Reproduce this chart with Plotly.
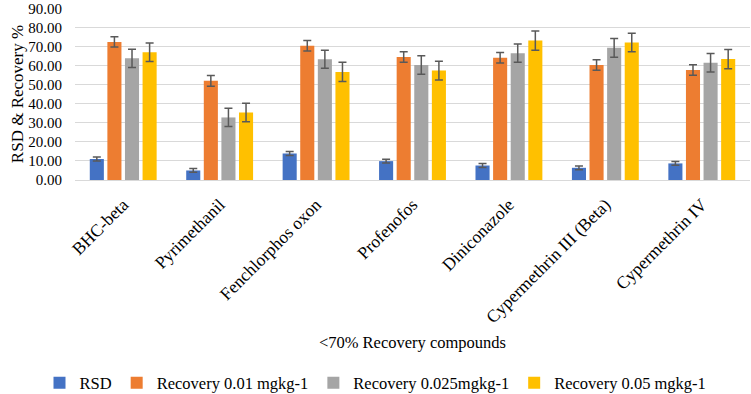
import plotly.graph_objects as go

categories = ["BHC-beta", "Pyrimethanil", "Fenchlorphos oxon", "Profenofos",
              "Diniconazole", "Cypermethrin III (Beta)", "Cypermethrin IV"]
rsd = [11.0, 5.0, 13.9, 9.9, 7.6, 6.4, 8.7]
rsd_err = [1.0, 1.0, 1.0, 1.0, 1.0, 1.0, 1.0]
rec_001 = [72.4, 52.0, 70.4, 64.5, 64.1, 60.3, 57.7]
rec_001_err = [2.7, 2.8, 2.8, 2.8, 2.8, 2.8, 2.8]
rec_0025 = [63.8, 32.8, 63.3, 60.3, 66.5, 69.3, 61.5]
rec_0025_err = [4.8, 4.8, 4.7, 4.9, 4.8, 4.9, 4.8]
rec_005 = [67.0, 35.4, 56.7, 57.4, 73.1, 72.1, 63.4]
rec_005_err = [4.9, 4.8, 5.0, 4.9, 5.0, 4.9, 5.0]
y_ticks = [0, 10, 20, 30, 40, 50, 60, 70, 80, 90]

series = [
    ("RSD", rsd, rsd_err, "#4472C4"),
    ("Recovery 0.01 mgkg-1", rec_001, rec_001_err, "#ED7D31"),
    ("Recovery 0.025mgkg-1", rec_0025, rec_0025_err, "#A5A5A5"),
    ("Recovery 0.05 mgkg-1", rec_005, rec_005_err, "#FFC000"),
]

font_family = "Liberation Serif"

fig = go.Figure()
for name, vals, errs, color in series:
    fig.add_trace(go.Bar(
        x=categories, y=vals, name=name,
        marker=dict(color=color, line=dict(width=0)),
        error_y=dict(type="data", array=errs, visible=True,
                     color="#595959", thickness=1.5, width=4),
    ))

fig.update_layout(
    width=751, height=394,
    margin=dict(l=75, r=1, t=8, b=214, autoexpand=False),
    paper_bgcolor="white", plot_bgcolor="white",
    barmode="group", bargap=0.27, bargroupgap=0.2,
    font=dict(family=font_family, size=15, color="#000000"),
    showlegend=True,
    legend=dict(orientation="h", x=0.5, xanchor="center", xref="container",
                y=(394 - 383) / 394, yanchor="middle", yref="container",
                font=dict(family=font_family, size=16.5), itemwidth=30,
                traceorder="normal"),
    xaxis=dict(
        tickangle=-45, tickfont=dict(family=font_family, size=17.5),
        showgrid=False, showline=False, ticks="", automargin=False,
        ticklabelstandoff=10,
        title=dict(text="&lt;70% Recovery compounds",
                   font=dict(family=font_family, size=16.5), standoff=10),
    ),
    yaxis=dict(
        range=[0, 90.2], tickvals=y_ticks,
        tickformat=".2f", automargin=False, ticklabeloverflow="allow",
        showgrid=True, gridcolor="#D9D9D9", gridwidth=1,
        zeroline=True, zerolinecolor="#D9D9D9", zerolinewidth=1,
        showline=False, ticks="", ticklabelstandoff=12,
        tickfont=dict(family=font_family, size=15),
        title=dict(text="RSD &amp; Recovery %",
                   font=dict(family=font_family, size=17), standoff=0),
    ),
)

fig.write_html("out.html", config={"displayModeBar": False},
               post_script="document.body.style.margin='0';")
